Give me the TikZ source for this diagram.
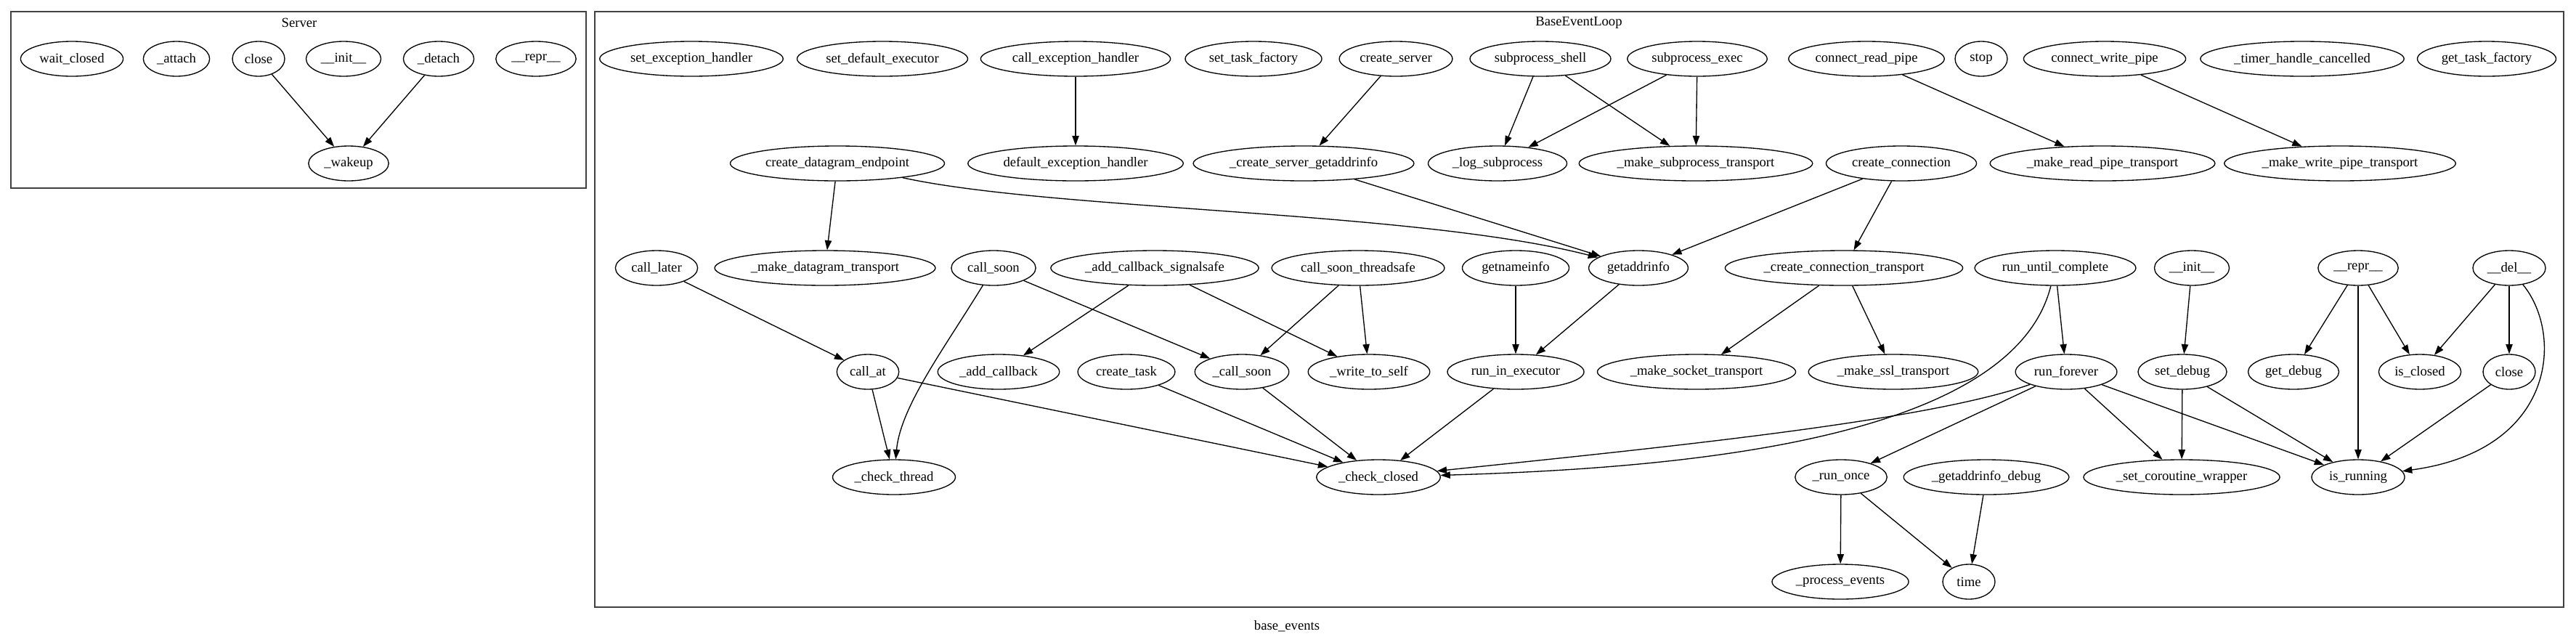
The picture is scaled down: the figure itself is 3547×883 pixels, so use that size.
\documentclass[tikz,border=0pt]{standalone}
\usepackage{fontspec}
\setmainfont{Liberation Serif}
\usetikzlibrary{arrows.meta, shapes.geometric}

\begin{document}
\begin{tikzpicture}[
    x=0.75pt, y=-0.75pt,
    fn/.style={ellipse, draw, line width=1pt, inner xsep=4pt, inner ysep=4pt,
               minimum width=54pt, minimum height=36pt,
               font=\fontsize{14pt}{16.8pt}\selectfont},
    call/.style={-{Triangle[length=10pt, width=7pt]}, line width=1pt},
    cluster/.style={draw=black!75, line width=1pt},
    title/.style={font=\fontsize{14pt}{16.8pt}\selectfont}
  ]
    \useasboundingbox (0,0) rectangle (3547,883);

    %% Server
    \draw[cluster] (15,16) rectangle (807,259);
    \node[title] (svtitle) at (412,31) {Server};
    \node[fn] (sv_wait) at (99,81) {wait\_closed};
    \node[fn] (sv_attach) at (243,81) {\_attach};
    \node[fn] (sv_close) at (356,81) {close};
    \node[fn] (sv_init) at (473,81) {\_\_init\_\_};
    \node[fn] (sv_detach) at (604,81) {\_detach};
    \node[fn] (sv_repr) at (738,81) {\_\_repr\_\_};
    \node[fn] (sv_wakeup) at (480,225) {\_wakeup};
    \draw[call] (sv_close) -- (sv_wakeup);
    \draw[call] (sv_detach) -- (sv_wakeup);

    %% BaseEventLoop
    \draw[cluster] (819,16) rectangle (3530,836);
    \node[title] (beltitle) at (2174,31) {BaseEventLoop};
    \node[fn] (set_exc) at (952,81) {set\_exception\_handler};
    \node[fn] (set_exe) at (1215,81) {set\_default\_executor};
    \node[fn] (call_exc) at (1481,81) {call\_exception\_handler};
    \node[fn] (set_tf) at (1726,81) {set\_task\_factory};
    \node[fn] (cr_server) at (1922,81) {create\_server};
    \node[fn] (sub_shell) at (2121,81) {subprocess\_shell};
    \node[fn] (sub_exec) at (2337,81) {subprocess\_exec};
    \node[fn] (conn_read) at (2570,81) {connect\_read\_pipe};
    \node[fn] (stop) at (2728,81) {stop};
    \node[fn] (conn_write) at (2898,81) {connect\_write\_pipe};
    \node[fn] (timer_hc) at (3170,81) {\_timer\_handle\_cancelled};
    \node[fn] (get_tf) at (3424,81) {get\_task\_factory};

    \node[fn] (cr_dgram) at (1153,225) {create\_datagram\_endpoint};
    \node[fn] (def_exc) at (1481,225) {default\_exception\_handler};
    \node[fn] (cr_sgai) at (1795,225) {\_create\_server\_getaddrinfo};
    \node[fn] (log_sub) at (2062,225) {\_log\_subprocess};
    \node[fn] (mk_sub) at (2335,225) {\_make\_subprocess\_transport};
    \node[fn] (cr_conn) at (2618,225) {create\_connection};
    \node[fn] (mk_read) at (2895,225) {\_make\_read\_pipe\_transport};
    \node[fn] (mk_write) at (3222,225) {\_make\_write\_pipe\_transport};

    \node[fn] (call_later) at (904,369) {call\_later};
    \node[fn] (mk_dgram) at (1136,369) {\_make\_datagram\_transport};
    \node[fn] (call_soon) at (1368,369) {call\_soon};
    \node[fn] (add_cbs) at (1590,369) {\_add\_callback\_signalsafe};
    \node[fn] (call_sts) at (1870,369) {call\_soon\_threadsafe};
    \node[fn] (gni) at (2087,369) {getnameinfo};
    \node[fn] (gai) at (2256,369) {getaddrinfo};
    \node[fn] (cr_ct) at (2539,369) {\_create\_connection\_transport};
    \node[fn] (run_uc) at (2830,369) {run\_until\_complete};
    \node[fn] (init) at (3018,369) {\_\_init\_\_};
    \node[fn] (repr) at (3247,369) {\_\_repr\_\_};
    \node[fn] (del) at (3455,369) {\_\_del\_\_};

    \node[fn] (call_at) at (1195,512) {call\_at};
    \node[fn] (add_cb) at (1375,512) {\_add\_callback};
    \node[fn] (cr_task) at (1551,512) {create\_task};
    \node[fn] (u_call_soon) at (1710,512) {\_call\_soon};
    \node[fn] (wr_self) at (1885,512) {\_write\_to\_self};
    \node[fn] (run_ie) at (2087,512) {run\_in\_executor};
    \node[fn] (mk_sock) at (2336,512) {\_make\_socket\_transport};
    \node[fn] (mk_ssl) at (2607,512) {\_make\_ssl\_transport};
    \node[fn] (run_fe) at (2845,512) {run\_forever};
    \node[fn] (set_dbg) at (3005,512) {set\_debug};
    \node[fn] (get_dbg) at (3158,512) {get\_debug};
    \node[fn] (is_cl) at (3332,512) {is\_closed};
    \node[fn] (close) at (3455,512) {close};

    \node[fn] (chk_thr) at (1231,657) {\_check\_thread};
    \node[fn] (chk_cl) at (1898,657) {\_check\_closed};
    \node[fn] (run_once) at (2535,657) {\_run\_once};
    \node[fn] (gai_dbg) at (2735,657) {\_getaddrinfo\_debug};
    \node[fn] (set_cw) at (3004,657) {\_set\_coroutine\_wrapper};
    \node[fn] (is_run) at (3247,657) {is\_running};

    \node[fn] (proc_ev) at (2534,801) {\_process\_events};
    \node[fn] (time) at (2711,801) {time};

    \draw[call] (call_exc) -- (def_exc);
    \draw[call] (cr_server) -- (cr_sgai);
    \draw[call] (sub_shell) -- (log_sub);
    \draw[call] (sub_shell) -- (mk_sub);
    \draw[call] (sub_exec) -- (log_sub);
    \draw[call] (sub_exec) -- (mk_sub);
    \draw[call] (conn_read) -- (mk_read);
    \draw[call] (conn_write) -- (mk_write);
    \draw[call] (cr_dgram) -- (mk_dgram);
    \draw[call] (cr_dgram) .. controls (1450,290) and (1950,290) .. (gai);
    \draw[call] (cr_sgai) -- (gai);
    \draw[call] (cr_conn) -- (gai);
    \draw[call] (cr_conn) -- (cr_ct);
    \draw[call] (call_later) -- (call_at);
    \draw[call] (call_soon) .. controls (1300,480) and (1240,560) .. (chk_thr);
    \draw[call] (call_soon) -- (u_call_soon);
    \draw[call] (add_cbs) -- (add_cb);
    \draw[call] (add_cbs) -- (wr_self);
    \draw[call] (call_sts) -- (u_call_soon);
    \draw[call] (call_sts) -- (wr_self);
    \draw[call] (gni) -- (run_ie);
    \draw[call] (gai) -- (run_ie);
    \draw[call] (cr_ct) -- (mk_sock);
    \draw[call] (cr_ct) -- (mk_ssl);
    \draw[call] (run_uc) .. controls (2770,610) and (2300,645) .. (chk_cl);
    \draw[call] (run_uc) -- (run_fe);
    \draw[call] (init) -- (set_dbg);
    \draw[call] (repr) -- (get_dbg);
    \draw[call] (repr) -- (is_cl);
    \draw[call] (repr) -- (is_run);
    \draw[call] (del) -- (is_cl);
    \draw[call] (del) -- (close);
    \draw[call] (del) .. controls (3530,460) and (3520,620) .. (is_run);
    \draw[call] (call_at) -- (chk_thr);
    \draw[call] (call_at) -- (chk_cl);
    \draw[call] (cr_task) -- (chk_cl);
    \draw[call] (u_call_soon) -- (chk_cl);
    \draw[call] (run_ie) -- (chk_cl);
    \draw[call] (run_fe) .. controls (2650,580) and (2300,615) .. (chk_cl);
    \draw[call] (run_fe) -- (run_once);
    \draw[call] (run_fe) -- (set_cw);
    \draw[call] (run_fe) -- (is_run);
    \draw[call] (set_dbg) -- (set_cw);
    \draw[call] (set_dbg) -- (is_run);
    \draw[call] (close) -- (is_run);
    \draw[call] (run_once) -- (proc_ev);
    \draw[call] (run_once) -- (time);
    \draw[call] (gai_dbg) -- (time);

    \node[title] (graphtitle) at (1772,862) {base\_events};
  \end{tikzpicture}
\end{document}
